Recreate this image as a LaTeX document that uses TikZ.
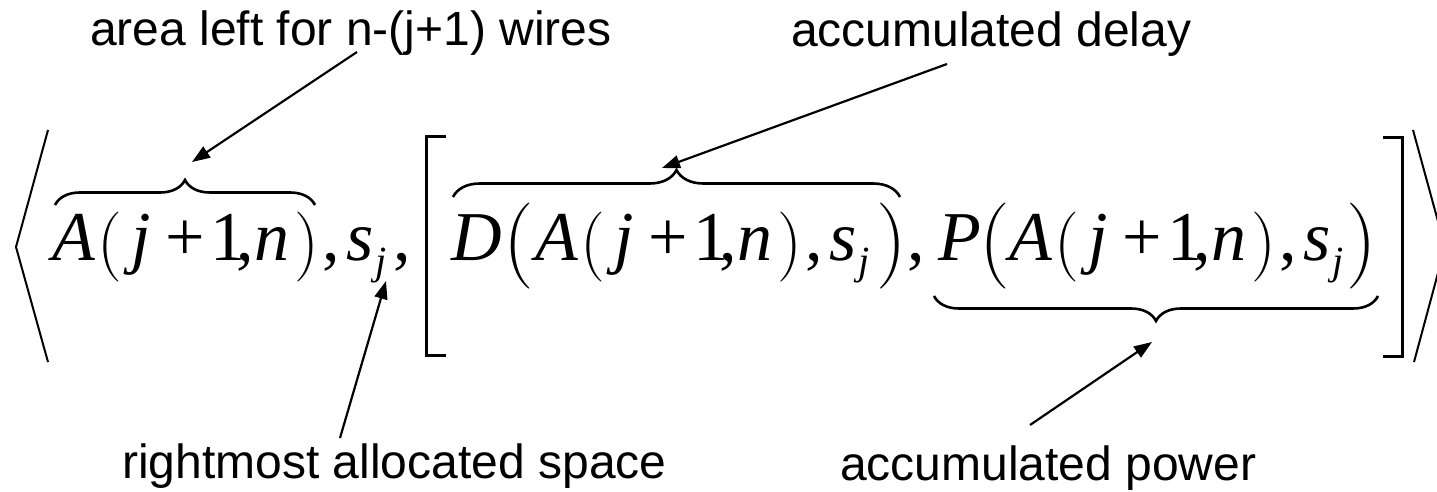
\documentclass[tikz,border=0pt]{standalone}
\usepackage{fontspec}
\newfontfamily\tnr{Liberation Serif}
\newfontfamily\lsans{Liberation Sans}
\usetikzlibrary{arrows.meta,decorations.pathreplacing}

\tikzset{
 mi/.style={anchor=base,inner sep=0pt,font=\tnr\fontsize{70}{80}\selectfont\itshape},
 mr/.style={anchor=base,inner sep=0pt,font=\tnr\fontsize{70}{80}\selectfont},
 pa/.style={anchor=base,inner sep=0pt,font=\rmfamily\fontsize{70}{80}\selectfont},
 bpa/.style={anchor=base,inner sep=0pt,font=\rmfamily\fontsize{86}{96}\selectfont},
 sb/.style={anchor=base,inner sep=0pt,font=\tnr\fontsize{40}{44}\selectfont\itshape},
 lbl/.style={anchor=base west,inner sep=0pt,font=\lsans\fontsize{48}{56}\selectfont},
 ptr/.style={line width=2.2pt,-{Triangle[length=18pt,width=13pt]}},
 brc/.style={line width=2.6pt,decorate,decoration={brace,amplitude=#1}},
 angl/.style={line width=2pt},
 sqb/.style={line width=3pt},
}

\newcommand\Aseq[2]{%
 \node[mi] (#2A) at (#1,260) {A};
 \node[pa] (#2lp) at (#1+36,264.5) {(};
 \node[mi] (#2j) at (#1+67,260) {j};
 \node[mr] (#2p) at (#1+111,260) {+};
 \node[mr] (#2o) at (#1+154,260) {1};
 \node[mr] (#2c) at (#1+171,260) {,};
 \node[mi] (#2n) at (#1+198,260) {n};
 \node[pa] (#2rp) at (#1+233,264.5) {)};
 \node[mr] (#2cc) at (#1+257,260) {,};
 \node[mi] (#2s) at (#1+286,260) {s};
 \node[sb] (#2sj) at (#1+307,274) {j};
}

\begin{document}
\begin{tikzpicture}[x=1pt,y=-1pt]
\clip (0,0) rectangle (1437,492);
\fill[white] (0,0) rectangle (1437,492);

% labels
\node[lbl] (L1) at (90,46) {area left for n-(j+1) wires};
\node[lbl] (L2) at (791,47) {accumulated delay};
\node[lbl] (L3) at (122,478) {rightmost allocated space};
\node[lbl] (L4) at (840,480) {accumulated power};

% angle brackets
\draw[angl] (48,130) -- (16,247) -- (48,362);
\draw[angl] (1413,130) -- (1445,247) -- (1414,362);

% square brackets
\draw[sqb] (446,137) -- (426,137) -- (426,355) -- (446,355);
\draw[sqb] (1383,138) -- (1402,138) -- (1402,356) -- (1383,356);

% formula
\Aseq{74}{a}
\node[mr] (cm1) at (402,260) {,};
\node[mi] (D) at (477,260) {D};
\node[bpa] (Dl) at (519,267.5) {(};
\Aseq{557}{b}
\node[bpa] (Dr) at (892,267.5) {)};
\node[mr] (cm2) at (916,260) {,};
\node[mi] (P) at (960,260) {P};
\node[bpa] (Pl) at (995,267.5) {(};
\Aseq{1031}{c}
\node[bpa] (Pr) at (1362,267.5) {)};

% braces
\draw[brc=25] (55,205) -- (315,205);
\draw[brc=27] (453,197) -- (900,197);
\draw[brc=25] (1378,296) -- (934,296);

% arrow ends
\coordinate (f1) at (357,52);  \coordinate (t1) at (192,162);
\coordinate (f2) at (947,64);  \coordinate (t2) at (662,168);
\coordinate (f3) at (340,438); \coordinate (t3) at (386,281);
\coordinate (f4) at (1030,425);\coordinate (t4) at (1152,342);

\draw[ptr] (f1) -- (t1);
\draw[ptr] (f2) -- (t2);
\draw[ptr] (f3) -- (t3);
\draw[ptr] (f4) -- (t4);
\end{tikzpicture}
\end{document}
